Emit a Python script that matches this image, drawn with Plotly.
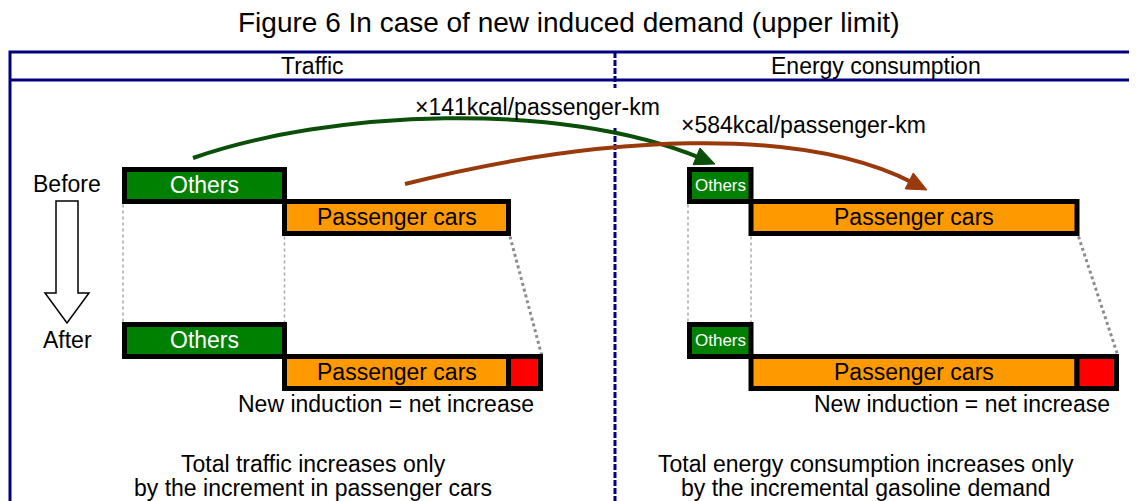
import numpy as np
import plotly.graph_objects as go

# ---------------- data ----------------
title_text = "Figure 6 In case of new induced demand (upper limit)"
panel_titles = ["Traffic", "Energy consumption"]
row_labels = ["Before", "After"]
segment_names = ["Others", "Passenger cars"]
others_len = [160, 61.5]          # length of "Others" segment (traffic, energy)
cars_len = [224, 326]             # length of "Passenger cars" segment
induced_len = [32, 39.5]          # new induced (net increase) segment
multiplier_labels = ["×141kcal/passenger-km", "×584kcal/passenger-km"]
induced_label = "New induction = net increase"
bottom_notes = [["Total traffic increases only", "by the increment in passenger cars"],
                ["Total energy consumption increases only", "by the incremental gasoline demand"]]

# ---------------- layout constants ----------------
W, H = 1137, 501
PAGE_MARGIN = 8   # default body margin of the html page
panel_x0 = [124.5, 689.5]
row_top = [169.5, 324.5]
bar_h = 32
FONT = "Arial, Liberation Sans, sans-serif"
GREEN, ORANGE, RED = "#008000", "#FF9900", "#FF0000"
NAVY = "#000080"
FS = 23

fig = go.Figure()
fig.add_trace(go.Scatter(x=[PAGE_MARGIN, W], y=[PAGE_MARGIN, H], mode="markers", marker=dict(opacity=0),
                         hoverinfo="skip", showlegend=False))

shapes = []
ann = []

def rect(x0, y0, x1, y1, fill, lw=5, color="black"):
    shapes.append(dict(type="rect", xref="x", yref="y", x0=x0, x1=x1, y0=y0, y1=y1,
                       fillcolor=fill, line=dict(color=color, width=lw), layer="above"))

def line(x0, y0, x1, y1, color, width, dash="solid"):
    shapes.append(dict(type="line", xref="x", yref="y", x0=x0, x1=x1, y0=y0, y1=y1,
                       line=dict(color=color, width=width, dash=dash), layer="above"))

def text(x, y, s, size=FS, color="black", family=FONT, xanchor="center"):
    ann.append(dict(x=x, y=y, xref="x", yref="y", text=s, showarrow=False,
                    xanchor=xanchor, yanchor="middle", font=dict(size=size, color=color, family=family)))

# outer frame
rect(10, 52, W + 20, H + 20, "rgba(0,0,0,0)", lw=3, color=NAVY)
line(10, 80, W + 20, 80, NAVY, 3)
# dashed divider (interrupted behind the multiplier label)
line(615, 52, 615, 88, NAVY, 3, "6px,2px")
line(615, 128, 615, H + 5, NAVY, 3, "6px,2px")

text(W / 2, 22, title_text, size=28)
text(312.5, 66, panel_titles[0])
text(876, 66, panel_titles[1])

# dotted guide lines (drawn first)
for p in range(2):
    x0 = panel_x0[p]
    xo = x0 + others_len[p]
    xc = xo + cars_len[p]
    xi = xc + induced_len[p]
    line(x0 - 1.5, row_top[0] + bar_h + 3, x0 - 1.5, row_top[1] - 2, "#a8a8a8", 1.5, "dot")
    line(xo, row_top[0] + 2 * bar_h + 3, xo, row_top[1] + bar_h - 2, "#a8a8a8", 1.5, "dot")
    line(xc + 1.5, row_top[0] + 2 * bar_h + 3, xi + 1, row_top[1] + bar_h - 2, "#8c8c8c", 3, "dot")

# bars
for p in range(2):
    x0 = panel_x0[p]
    xo = x0 + others_len[p]
    xc = xo + cars_len[p]
    xi = xc + induced_len[p]
    osize = FS if p == 0 else 17
    for r in range(2):
        yt = row_top[r]
        rect(x0, yt, xo, yt + bar_h, GREEN)
        rect(xo, yt + bar_h, xc, yt + 2 * bar_h, ORANGE)
        if r == 1:
            rect(xc, yt + bar_h, xi, yt + 2 * bar_h, RED)
        text((x0 + xo) / 2, yt + bar_h / 2 - 0.5, segment_names[0], size=osize, color="white")
        text((xo + xc) / 2, yt + 1.5 * bar_h - 0.5, segment_names[1])
    text(xi - 5, row_top[1] + 2 * bar_h + 15, induced_label, xanchor="right")

# Before -> After hollow arrow
shapes.append(dict(type="path", xref="x", yref="y",
                   path="M 56 201 L 78 201 L 78 293 L 89 293 L 67 323 L 45 293 L 56 293 Z",
                   fillcolor="white", line=dict(color="black", width=1.5), layer="above"))
text(67, 184, row_labels[0])
text(67, 340, row_labels[1])

# curved arrows
def curve(p0, c1, c2, tip, color, hl=20, hw=9):
    d = np.array(tip) - np.array(c2)
    d = d / np.linalg.norm(d)
    n = np.array([-d[1], d[0]])
    base = np.array(tip) - hl * d
    end = np.array(tip) - (hl - 4) * d
    shapes.append(dict(type="path", xref="x", yref="y",
                       path=f"M {p0[0]} {p0[1]} C {c1[0]} {c1[1]}, {c2[0]} {c2[1]}, {end[0]:.1f} {end[1]:.1f}",
                       line=dict(color=color, width=4), layer="above"))
    a = base + hw * n
    b = base - hw * n
    shapes.append(dict(type="path", xref="x", yref="y",
                       path=f"M {tip[0]} {tip[1]} L {a[0]:.1f} {a[1]:.1f} L {b[0]:.1f} {b[1]:.1f} Z",
                       fillcolor=color, line=dict(color=color, width=1), layer="above"))

curve((193, 158), (330, 110), (560, 100), (715, 164), "#0B4F0B")
curve((405, 184), (600, 135), (800, 125), (927, 190), "#9A3A0C")

text(537, 107, multiplier_labels[0])
text(803, 125, multiplier_labels[1])

for p, cx in enumerate([313, 866]):
    text(cx, 464, bottom_notes[p][0])
    text(cx, 488, bottom_notes[p][1])

fig.update_layout(
    width=W - PAGE_MARGIN, height=H - PAGE_MARGIN, margin=dict(l=0, r=0, t=0, b=0),
    paper_bgcolor="white", plot_bgcolor="white",
    xaxis=dict(range=[PAGE_MARGIN, W], visible=False, fixedrange=True),
    yaxis=dict(range=[H, PAGE_MARGIN], visible=False, fixedrange=True),
    shapes=shapes, annotations=ann, showlegend=False,
)
fig.write_html("out.html")
